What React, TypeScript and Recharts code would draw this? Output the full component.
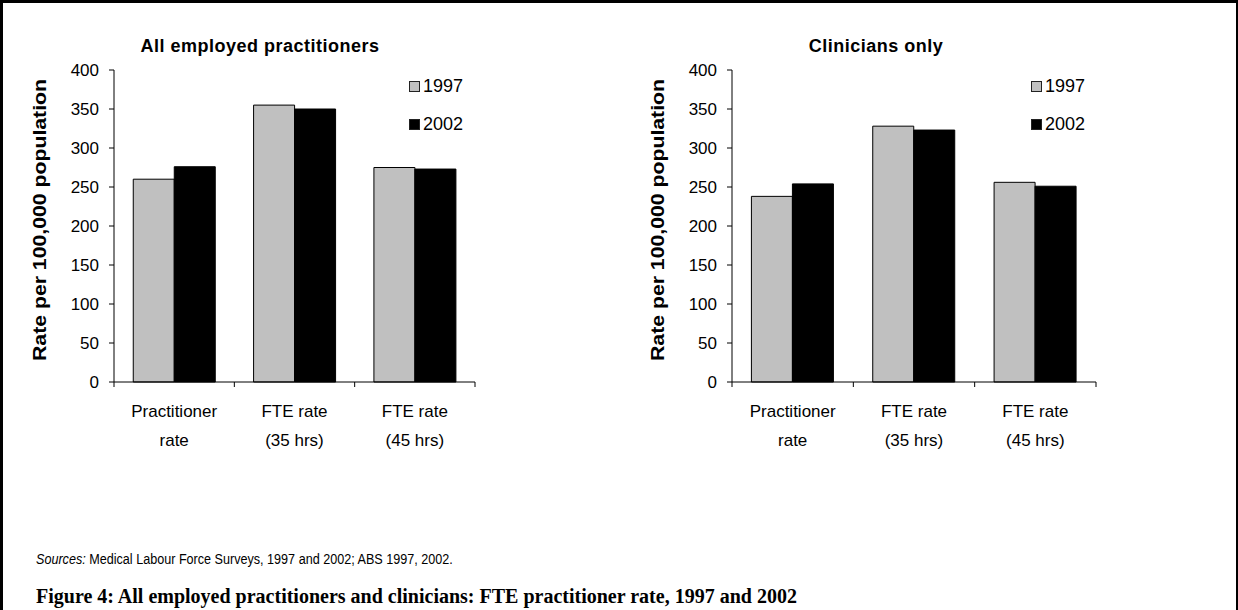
import React from "react";
import { BarChart, Bar, XAxis, YAxis, Legend } from "recharts";

// categories + values
const categories = ["Practitioner\nrate", "FTE rate\n(35 hrs)", "FTE rate\n(45 hrs)"];
const yTicks = [0, 50, 100, 150, 200, 250, 300, 350, 400];

const allPrac1997 = [260, 355, 275];
const allPrac2002 = [276, 350, 273];
const clin1997 = [238, 328, 256];
const clin2002 = [254, 323, 251];

const seriesNames = ["1997", "2002"];
const GREY = "#C0C0C0";
const BLACK = "#000000";
const FILLS = [GREY, BLACK];
const SANS = "'Liberation Sans', Arial, sans-serif";
const SERIF = "'Liberation Serif', 'Times New Roman', serif";

const toRows = (a: number[], b: number[]) =>
  categories.map((cat, i) => ({ cat, a: a[i], b: b[i] }));

// label in two lines, plus the tick marks sitting on the category boundaries (Excel style)
function CatTick({ x, y, payload, width, visibleTicksCount, index }: any) {
  const lines = String(payload.value).split("\n");
  const half = Number(width) / (2 * Number(visibleTicksCount));
  const last = index === visibleTicksCount - 1;
  return (
    <g>
      <line x1={x - half} x2={x - half} y1={y} y2={y + 5} stroke="#000" />
      {last && <line x1={x + half} x2={x + half} y1={y} y2={y + 5} stroke="#000" />}
      <text x={x} y={y} textAnchor="middle" fontFamily={SANS} fontSize={17} fill="#000">
        {lines.map((l, i) => (
          <tspan key={i} x={x} dy={i === 0 ? 35 : 29}>
            {l}
          </tspan>
        ))}
      </text>
    </g>
  );
}

function YLabel({ viewBox }: any) {
  const cx = viewBox.x + 40;
  const cy = viewBox.y + viewBox.height / 2 - 6;
  return (
    <text
      x={cx}
      y={cy}
      transform={`rotate(-90 ${cx} ${cy})`}
      textAnchor="middle"
      dominantBaseline="central"
      fontFamily={SANS}
      fontWeight="bold"
      fontSize={18}
      textLength={282}
      lengthAdjust="spacingAndGlyphs"
      fill="#000"
    >
      Rate per 100,000 population
    </text>
  );
}

function KeyBox({ payload }: any) {
  return (
    <div style={{ fontFamily: SANS, fontSize: 18, color: "#000" }}>
      {(payload || []).map((p: any, i: number) => (
        <div key={p.value} style={{ display: "flex", alignItems: "center", height: 38 }}>
          <span
            style={{
              display: "inline-block",
              width: 9,
              height: 9,
              background: FILLS[i],
              border: "1px solid #222",
              marginRight: 3,
            }}
          />
          {p.value}
        </div>
      ))}
    </div>
  );
}

function Panel({ a, b, plotRight, legendLeft }: { a: number[]; b: number[]; plotRight: number; legendLeft: number }) {
  return (
    <BarChart
      width={600}
      height={480}
      data={toRows(a, b)}
      margin={{ top: 70, right: plotRight, bottom: 28, left: 0 }}
      barCategoryGap="16%"
      barGap={0}
    >
      <XAxis
        dataKey="cat"
        type="category"
        axisLine={{ stroke: "#000" }}
        tickLine={false}
        tickSize={0}
        tickMargin={0}
        tick={<CatTick />}
        interval={0}
        height={70}
      />
      <YAxis
        domain={[0, 400]}
        ticks={yTicks}
        width={114}
        tickSize={5}
        tickMargin={10}
        axisLine={{ stroke: "#000" }}
        tickLine={{ stroke: "#000" }}
        tick={{ fill: "#000", fontSize: 17, fontFamily: SANS }}
        label={<YLabel />}
      />
      <Legend
        layout="vertical"
        align="center"
        verticalAlign="middle"
        content={<KeyBox />}
        wrapperStyle={{ left: legendLeft, top: 67, width: 80, height: 80 }}
      />
      <Bar dataKey="a" name={seriesNames[0]} fill={GREY} stroke="#000" strokeWidth={1} isAnimationActive={false} />
      <Bar dataKey="b" name={seriesNames[1]} fill={BLACK} stroke="#000" strokeWidth={1} isAnimationActive={false} />
    </BarChart>
  );
}

const titleStyle: React.CSSProperties = {
  position: "absolute",
  top: 36,
  width: 400,
  textAlign: "center",
  fontFamily: SANS,
  fontWeight: "bold",
  fontSize: 18,
  letterSpacing: 0.5,
};

export default function App() {
  return (
    <div style={{ position: "absolute", left: 0, top: 0, width: 1238, height: 610, background: "#fff", overflow: "hidden" }}>
      <div
        style={{
          position: "absolute",
          left: 0,
          top: 0,
          width: 1238,
          height: 620,
          boxSizing: "border-box",
          borderTop: "3px solid #000",
          borderLeft: "3px solid #000",
          borderRight: "2px solid #000",
        }}
      />
      <div style={{ position: "absolute", left: 0, top: 0 }}>
        <Panel a={allPrac1997} b={allPrac2002} plotRight={125} legendLeft={409} />
      </div>
      <div style={{ position: "absolute", left: 618, top: 0 }}>
        <Panel a={clin1997} b={clin2002} plotRight={122} legendLeft={413} />
      </div>
      <div style={{ ...titleStyle, left: 60 }}>All employed practitioners</div>
      <div style={{ ...titleStyle, left: 676 }}>Clinicians only</div>
      <div
        style={{
          position: "absolute",
          left: 36,
          top: 551,
          fontFamily: SANS,
          fontSize: 14,
          whiteSpace: "nowrap",
          transform: "scaleX(0.9)",
          transformOrigin: "left center",
        }}
      >
        <i>Sources:</i> Medical Labour Force Surveys, 1997 and 2002; ABS 1997, 2002.
      </div>
      <div style={{ position: "absolute", left: 36, top: 585, fontFamily: SERIF, fontWeight: "bold", fontSize: 20, whiteSpace: "nowrap" }}>
        Figure 4: All employed practitioners and clinicians: FTE practitioner rate, 1997 and 2002
      </div>
    </div>
  );
}
